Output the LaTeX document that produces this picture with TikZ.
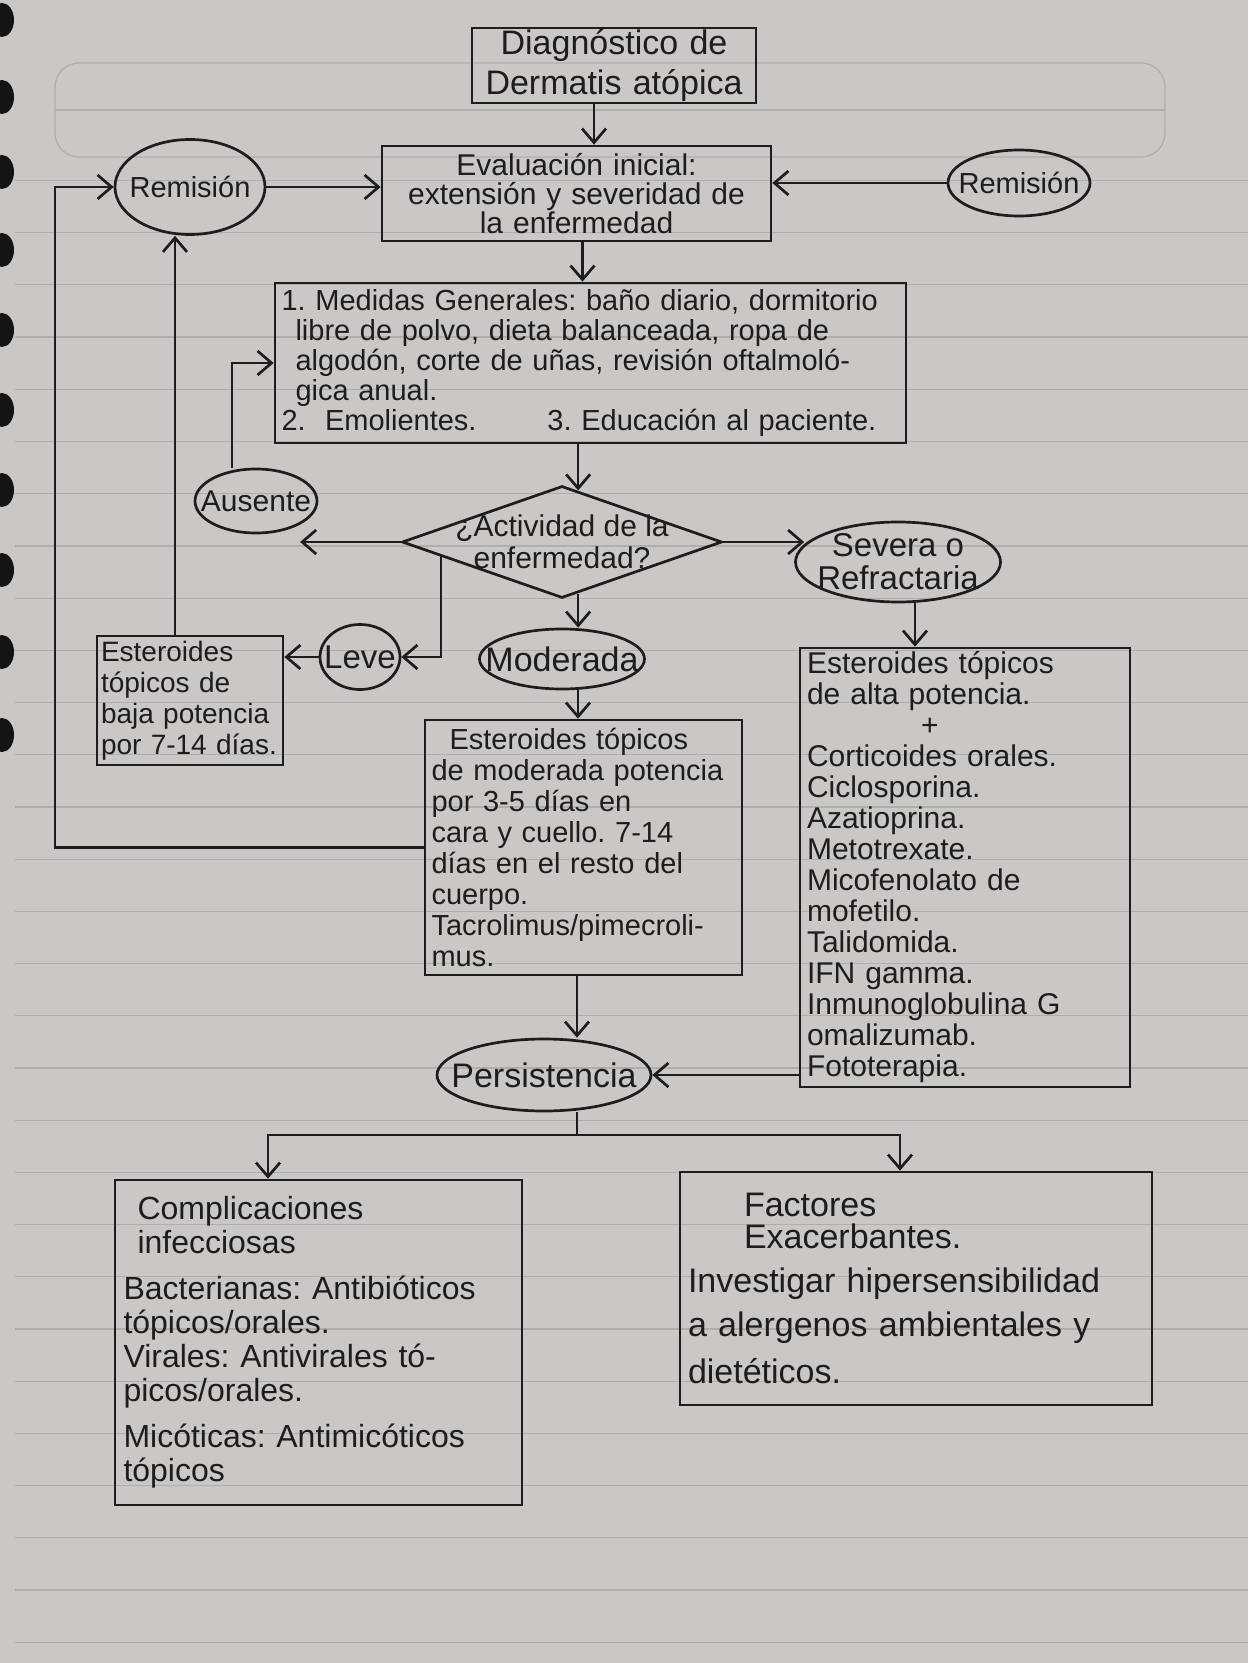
\documentclass[tikz,border=0pt]{standalone}
\usepackage{fontspec}
\setmainfont{Liberation Sans}
\usetikzlibrary{arrows.meta,shapes.geometric,calc}
\definecolor{paper}{RGB}{203,199,196}
\definecolor{rulec}{RGB}{176,173,174}
\definecolor{ink}{RGB}{30,28,28}
\frenchspacing
\begin{document}
\begin{tikzpicture}[x=0.5pt,y=-0.5pt,
  box/.style={draw=ink, line width=1.35pt, rectangle, inner xsep=3pt, inner ysep=1pt, align=left, text=ink},
  oval/.style={draw=ink, line width=1.35pt, ellipse, inner sep=-40pt, align=center, text=ink},
  decision/.style={draw=ink, line width=1.35pt, diamond, inner sep=-60pt, align=center, text=ink},
  arr/.style={draw=ink, line width=1.35pt, -{Straight Barb[length=7pt,width=12pt,line width=1.35pt]}},
  conn/.style={draw=ink, line width=1.35pt},
  ruling/.style={draw=rulec, line width=0.6pt},
  ]
% paper
\fill[paper] (0,0) rectangle (1248,1663);
\useasboundingbox (0,0) rectangle (1248,1663);
\draw[ruling, rounded corners=12pt] (55,63) rectangle (1165,157);
\draw[ruling] (55,110) -- (1165,110);
\foreach \k in {0,...,28} \draw[ruling] (15,180.5+52.2*\k) -- (1248,180.5+52.2*\k);
\foreach \yy in {20,97,172,250,330,410,490,570,652,735}
  \fill[black!92] (2,\yy) ellipse [x radius=12, y radius=17];

% nodes
\node[box, align=center, minimum width=142pt, minimum height=37.5pt, text width=134pt, inner ysep=0pt,
  font=\fontsize{17}{20}\selectfont] (diag) at (614,65.5) {Diagnóstico de\\Dermatis atópica};
\node[box, align=center, minimum width=194.5pt, minimum height=47.5pt, text width=188pt, inner ysep=0pt,
  font=\fontsize{15}{14.5}\selectfont] (eval) at (576.5,193.5) {Evaluación inicial:\\extensión y severidad de\\la enfermedad};
\node[oval, minimum width=75pt, minimum height=47.5pt, font=\fontsize{14.5}{15}\selectfont] (remL) at (190,187) {Remisión};
\node[oval, minimum width=71pt, minimum height=33pt, font=\fontsize{14.5}{15}\selectfont] (remR) at (1019,183) {Remisión};
\node[box, minimum width=315.5pt, minimum height=80pt, text width=309pt,
  font=\fontsize{14.5}{15}\selectfont] (med) at (590.5,363)
  {1. Medidas Generales: baño diario, dormitorio\\
   \hspace*{7pt}libre de polvo, dieta balanceada, ropa de\\
   \hspace*{7pt}algodón, corte de uñas, revisión oftalmoló-\\
   \hspace*{7pt}gica anual.\\
   \makebox[133pt][l]{2.\ \ Emolientes.}3. Educación al paciente.};
\node[decision, minimum width=160pt, minimum height=56pt, font=\fontsize{15}{16}\selectfont] (act) at (562,542) {¿Actividad de la\\enfermedad?};
\node[oval, minimum width=61pt, minimum height=32pt, font=\fontsize{15}{16}\selectfont] (ausente) at (256,501) {Ausente};
\node[oval, minimum width=102.5pt, minimum height=40pt, font=\fontsize{16.5}{16.5}\selectfont] (severa) at (898,562) {Severa o\\Refractaria};
\node[oval, minimum width=40pt, minimum height=32.5pt, font=\fontsize{16.5}{17}\selectfont] (leve) at (360,657) {Leve};
\node[oval, minimum width=82.5pt, minimum height=30pt, font=\fontsize{17}{17}\selectfont] (moderada) at (562,659) {Moderada};
\node[box, minimum width=93pt, minimum height=64.5pt, text width=89pt, inner xsep=2pt, inner ysep=0.5pt,
  font=\fontsize{14}{15.5}\selectfont] (baja) at (190,700.5) {Esteroides\\tópicos de\\baja potencia\\por 7-14 días.};
\node[box, minimum width=158.5pt, minimum height=127.5pt, text width=152pt,
  font=\fontsize{14.5}{15.5}\selectfont] (mod) at (583.5,847.5)
  {\hspace*{9pt}Esteroides tópicos\\de moderada potencia\\por 3-5 días en\\cara y cuello. 7-14\\días en el resto del\\cuerpo.\\Tacrolimus/pimecroli-\\mus.};
\node[box, minimum width=165pt, minimum height=219.5pt, text width=158pt,
  font=\fontsize{15}{15.5}\selectfont] (alta) at (965,867.5)
  {Esteroides tópicos\\de alta potencia.\\\hspace*{57pt}+\\Corticoides orales.\\Ciclosporina.\\Azatioprina.\\Metotrexate.\\Micofenolato de\\mofetilo.\\Talidomida.\\IFN gamma.\\Inmunoglobulina G\\omalizumab.\\Fototerapia.};
\node[oval, minimum width=107pt, minimum height=36pt, font=\fontsize{17}{17}\selectfont] (persist) at (544,1075) {Persistencia};
\node[box, minimum width=203.5pt, minimum height=162.5pt, text width=195pt,
  font=\fontsize{16}{17}\selectfont] (comp) at (318.5,1342.5)
  {\hspace*{7pt}Complicaciones\\\hspace*{7pt}infecciosas\\[6pt]Bacterianas: Antibióticos\\tópicos/orales.\\Virales: Antivirales tó-\\picos/orales.\\[6pt]Micóticas: Antimicóticos\\tópicos};
\node[box, minimum width=236pt, minimum height=116.5pt, text width=228pt,
  font=\fontsize{17}{16}\selectfont] (fact) at (916,1288.5)
  {\hspace*{28pt}Factores\\\hspace*{28pt}Exacerbantes.\\[6pt]Investigar hipersensibilidad\\[6pt]a alergenos ambientales y\\[6pt]dietéticos.};

% helper coordinates
\coordinate (actin) at ($(act.north)!0.1!(act.east)$);
\coordinate (actout) at ($(act.south)!0.1!(act.east)$);
\coordinate (levein) at ($(act.west)!0.25!(act.south)$);
\coordinate (loopc) at (55,187);
\coordinate (split) at (577,1135);

% connectors
\draw[arr] ([xshift=-10pt]diag.south) -- ([xshift=-10pt]diag.south |- eval.north);
\draw[arr] (remL.east) -- (remL.east -| eval.west);
\draw[arr] (remR.west) -- (remR.west -| eval.east);
\draw[arr] ([xshift=3pt]eval.south) -- ([xshift=3pt]eval.south |- med.north);
\draw[arr] (actin |- med.south) -- (actin);
\draw[arr] (act.west) -- (act.west -| ausente.south east);
\draw[arr] ([xshift=-12pt]ausente.north) |- (med.west);
\draw[arr] (act.east) -- ([xshift=5pt]act.east -| severa.west);
\draw[arr] ([xshift=8.5pt]severa.south) -- ([xshift=8.5pt]severa.south |- alta.north);
\draw[arr] (levein) |- (leve.east);
\draw[arr] (leve.west) -- (leve.west -| baja.east);
\draw[arr] ([xshift=-7.5pt]baja.north) -- ([xshift=-7.5pt]baja.north |- remL.south);
\draw[arr] (actout) -- (actout |- moderada.north);
\draw[arr] ([xshift=8pt]moderada.south) -- ([xshift=8pt]moderada.south |- mod.north);
\draw[arr] (mod.west) -| (loopc) -- (remL.west);
\draw[arr] ([xshift=-3.25pt]mod.south) -- ([xshift=-3.25pt]mod.south |- persist.north);
\draw[arr] (alta.west |- persist.east) -- (persist.east);
\draw[conn] (split |- persist.south) -- (split);
\draw[arr] (split) -| ([xshift=-25.25pt]comp.north);
\draw[arr] (split) -| ([xshift=-8pt]fact.north);
\end{tikzpicture}
\end{document}
